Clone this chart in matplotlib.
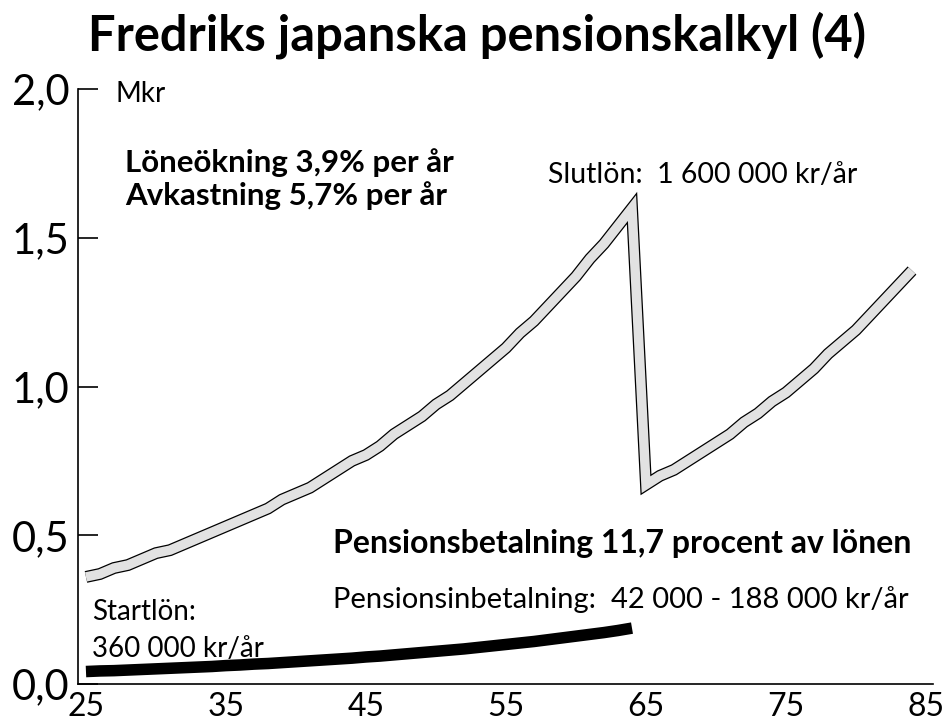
import matplotlib
matplotlib.use("Agg")
import matplotlib.pyplot as plt

plt.rcParams['font.family'] = ['Lato', 'DejaVu Sans']

# age axis
work_ages = list(range(25, 65))
retire_ages = list(range(65, 85))

# salary (Mkr) age 25-64
salary = [0.36, 0.37, 0.39, 0.40, 0.42, 0.44, 0.45, 0.47, 0.49, 0.51,
          0.53, 0.55, 0.57, 0.59, 0.62, 0.64, 0.66, 0.69, 0.72, 0.75,
          0.77, 0.80, 0.84, 0.87, 0.90, 0.94, 0.97, 1.01, 1.05, 1.09,
          1.13, 1.18, 1.22, 1.27, 1.32, 1.37, 1.43, 1.48, 1.54, 1.60]
# after retirement, age 65-84
after = [0.67, 0.70, 0.72, 0.75, 0.78, 0.81, 0.84, 0.88, 0.91, 0.95,
         0.98, 1.02, 1.06, 1.11, 1.15, 1.19, 1.24, 1.29, 1.34, 1.39]
# pension payments (Mkr) age 25-64
payments = [0.042, 0.044, 0.045, 0.047, 0.049, 0.051, 0.053, 0.055, 0.057, 0.059,
            0.062, 0.064, 0.067, 0.069, 0.072, 0.075, 0.078, 0.081, 0.084, 0.087,
            0.091, 0.094, 0.098, 0.102, 0.106, 0.110, 0.114, 0.118, 0.123, 0.128,
            0.133, 0.138, 0.143, 0.149, 0.155, 0.161, 0.167, 0.173, 0.180, 0.188]

x_ticks = [25, 35, 45, 55, 65, 75, 85]
y_ticks = [0.0, 0.5, 1.0, 1.5, 2.0]
y_labels = ["0,0", "0,5", "1,0", "1,5", "2,0"]

fig = plt.figure(figsize=(9.43, 7.27), dpi=100)
ax = fig.add_axes([0.0827, 0.0591, 0.9067, 0.8184])

ages = work_ages + retire_ages
line_vals = salary + after
ax.plot(ages, line_vals, color='black', lw=8.6, solid_joinstyle='miter',
        solid_capstyle='butt', zorder=3)
ax.plot(ages, line_vals, color='#e2e2e2', lw=6.8, solid_joinstyle='miter',
        solid_capstyle='butt', zorder=4)
ax.plot(work_ages, payments, color='black', lw=8.3, solid_capstyle='butt', zorder=3)

ax.set_xlim(24.43, 85.5)
ax.set_ylim(0, 2.0)
ax.set_xticks(x_ticks)
ax.set_yticks(y_ticks)
ax.set_yticklabels(y_labels)
ax.tick_params(axis='x', length=0, pad=6, labelsize=23)
ax.tick_params(axis='y', direction='in', length=14.5, width=1.2, pad=6, labelsize=30)
for s in ['top', 'right']:
    ax.spines[s].set_visible(False)
for s in ['left', 'bottom']:
    ax.spines[s].set_linewidth(1.2)

ax.text(27.1, 1.956, "Mkr", fontsize=20, va='baseline')
ax.text(27.8, 1.721, "Löneökning 3,9% per år", fontsize=22.5, fontweight='bold', va='baseline')
ax.text(27.8, 1.611, "Avkastning 5,7% per år", fontsize=22.5, fontweight='bold', va='baseline')
ax.text(58.0, 1.685, "Slutlön:  1 600 000 kr/år", fontsize=20.5, va='baseline')
ax.text(42.64, 0.44, "Pensionsbetalning 11,7 procent av lönen", fontsize=23,
        fontweight='bold', va='baseline')
ax.text(42.64, 0.255, "Pensionsinbetalning:  42 000 - 188 000 kr/år", fontsize=21, va='baseline')
ax.text(25.43, 0.215, "Startlön:", fontsize=20, va='baseline')
ax.text(25.43, 0.091, "360 000 kr/år", fontsize=20, va='baseline')

fig.text(0.506, 0.931, "Fredriks japanska pensionskalkyl (4)", fontsize=35.2,
         fontweight='bold', ha='center', va='baseline')

fig.savefig("out.png", dpi=100)
